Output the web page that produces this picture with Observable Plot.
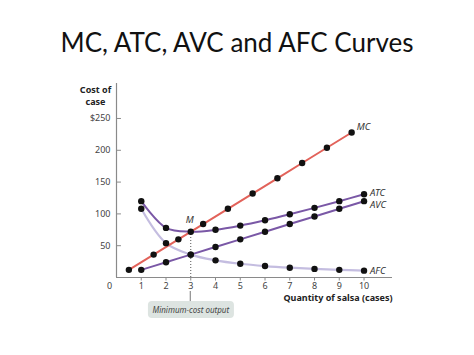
<!DOCTYPE html>
<html><head><meta charset="utf-8">
<script src="https://cdn.jsdelivr.net/npm/d3@7"></script>
<script src="https://cdn.jsdelivr.net/npm/@observablehq/plot@0.6"></script>
<style>
body{margin:0;background:#fff;width:474px;height:355px;overflow:hidden}
#title{height:80px;box-sizing:border-box;padding-top:29px;text-align:center;font-family:Lato,"Open Sans",sans-serif;font-size:26px;line-height:27px;color:#111}
#chart svg{display:block;overflow:visible}
</style></head><body>
<div id="title">MC, ATC, AVC and AFC Curves</div>
<div id="chart"></div>
<script>
// Quantity of salsa (cases)
const quantity   = [1, 2, 3, 4, 5, 6, 7, 8, 9, 10];
// MC plotted at the midpoints between quantities
const mcQuantity = [0.5, 1.5, 2.5, 3.5, 4.5, 5.5, 6.5, 7.5, 8.5, 9.5];
const mc  = [12, 36, 60, 84, 108, 132, 156, 180, 204, 228];
const atc = [120, 78, 72, 75, 81.6, 90, 99.43, 109.5, 120, 130.8];
const avc = [12, 24, 36, 48, 60, 72, 84, 96, 108, 120];
const afc = [108, 54, 36, 27, 21.6, 18, 15.43, 13.5, 12, 10.8];
const xTicks = [1, 2, 3, 4, 5, 6, 7, 8, 9, 10];
const yTicks = [50, 100, 150, 200, 250];
const yTickLabels = ["50", "100", "150", "200", "$250"];
const minCostQty = 3, minCost = 72;
const annotation = "Minimum-cost output";
const xMax = 11.15, yMax = 305;

const mcRows  = mcQuantity.map((q, i) => ({q, v: mc[i]}));
const atcRows = quantity.map((q, i) => ({q, v: atc[i]}));
const avcRows = quantity.map((q, i) => ({q, v: avc[i]}));
const afcRows = quantity.map((q, i) => ({q, v: afc[i]}));
const series = [
  {name: "MC",  rows: mcRows,  color: "#e2625a", dy: -6, dx: 5},
  {name: "ATC", rows: atcRows, color: "#7a58a6", dy: -1, dx: 6},
  {name: "AVC", rows: avcRows, color: "#7a58a6", dy: 4, dx: 6},
  {name: "AFC", rows: afcRows, color: "#c4bde0", dy: 0, dx: 6}
];
const lastOf = s => ({...s.rows[s.rows.length - 1], name: s.name});

const tickFmt = d => yTickLabels[yTicks.indexOf(d)];
const font = "'Noto Sans', sans-serif";

const plot = Plot.plot({
  width: 474, height: 275,
  marginLeft: 116, marginRight: 82, marginTop: 3, marginBottom: 78,
  x: {domain: [0, xMax]},
  y: {domain: [0, yMax]},
  style: {fontFamily: font, fontSize: "9px", background: "#fff", overflow: "visible"},
  marks: [
    Plot.axisX({ticks: xTicks, tickSize: 3.5, tickPadding: 1.5, stroke: "#8a8a8a", fill: "#444", fontSize: 9, label: null}),
    Plot.axisY({ticks: yTicks, tickSize: 0, tickPadding: 6, tickFormat: tickFmt, fill: "#444", fontSize: 9, label: null}),
    Plot.ruleY(yTicks, {x1: 0, x2: 0.2, stroke: "#8a8a8a"}),
    Plot.ruleY([0], {x1: 0, x2: xMax, stroke: "#8a8a8a", strokeWidth: 1.2}),
    Plot.ruleX([0], {y1: 0, y2: yMax, stroke: "#8a8a8a", strokeWidth: 1.2}),
    Plot.text(["0"], {x: 0, y: 0, text: d => d, dx: -7, dy: 9, fill: "#444", fontSize: 9}),
    // dotted line at minimum-cost output
    Plot.ruleX([minCostQty], {y1: 0, y2: minCost, stroke: "#555", strokeDasharray: "1,2", strokeWidth: 1}),
    // curves
    Plot.line(afcRows, {x: "q", y: "v", stroke: series[3].color, strokeWidth: 2.2, curve: "catmull-rom"}),
    Plot.line(avcRows, {x: "q", y: "v", stroke: series[2].color, strokeWidth: 2, curve: "catmull-rom"}),
    Plot.line(atcRows, {x: "q", y: "v", stroke: series[1].color, strokeWidth: 2, curve: "catmull-rom"}),
    Plot.line(mcRows,  {x: "q", y: "v", stroke: series[0].color, strokeWidth: 2}),
    // dots
    ...series.map(s => Plot.dot(s.rows, {x: "q", y: "v", r: 3.2, fill: "#111"})),
    // series labels
    ...series.map(s => Plot.text([lastOf(s)], {x: "q", y: "v", text: "name", dx: s.dx, dy: s.dy, textAnchor: "start", fontStyle: "italic", fontSize: 9.5, fill: "#333"})),
    // M label
    Plot.text([{q: minCostQty, v: minCost}], {x: "q", y: "v", text: () => "M", dx: -1, dy: -12, fontStyle: "italic", fontSize: 9.5, fill: "#333"}),
    // axis titles
    Plot.text([["Cost of", "case"]], {x: 0, y: yMax, text: d => d.join("\n"), dx: -21, dy: 1, lineAnchor: "top", textAnchor: "middle", fontWeight: "bold", fontSize: 9, fill: "#222", lineHeight: 1.3}),
    Plot.text(["Quantity of salsa (cases)"], {x: xMax, y: 0, text: d => d, dy: 21, textAnchor: "end", fontWeight: "bold", fontSize: 9, fill: "#222"}),
    // annotation text
    Plot.text([annotation], {x: minCostQty, y: 0, text: d => d, dy: 33, fontStyle: "italic", fontSize: 8, fill: "#444"})
  ]
});
document.getElementById("chart").appendChild(plot);

// background box and leader line for annotation, derived from the text's rendered box
const t = d3.select(plot).selectAll("text").filter(function() { return this.textContent === annotation; }).node();
if (t) {
  const sr = plot.getBoundingClientRect();
  const tr = t.getBoundingClientRect();
  let top = t;
  while (top.parentNode !== plot) top = top.parentNode;
  const padX = 4.5, padY = 3;
  const bx = tr.left - sr.left - padX, by = tr.top - sr.top - padY;
  const x3 = plot.scale("x").apply(minCostQty);
  const y0 = plot.scale("y").apply(0);
  const root = d3.select(plot);
  root.insert("rect", () => top)
    .attr("x", bx).attr("y", by)
    .attr("width", tr.width + 2 * padX).attr("height", tr.height + 2 * padY)
    .attr("rx", 4).attr("fill", "#dde4e1");
  root.insert("line", () => top)
    .attr("x1", x3).attr("x2", x3)
    .attr("y1", y0 + 14).attr("y2", by)
    .attr("stroke", "#777").attr("stroke-width", 1);
}
</script>
</body></html>
